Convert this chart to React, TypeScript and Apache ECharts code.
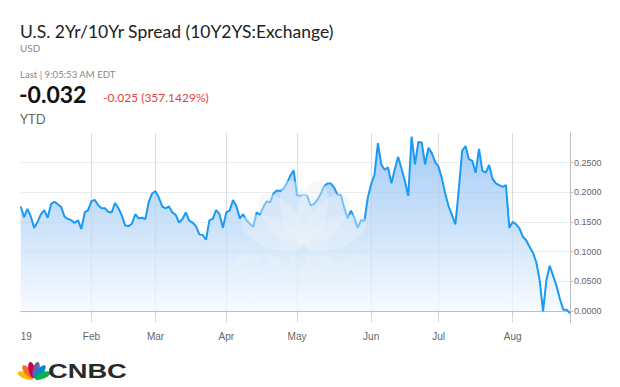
import React, { useEffect, useRef } from "react";
import * as echarts from "echarts";

// Daily closes of the 2Yr/10Yr spread, one array per month (trading days)
const jan = [0.176, 0.158, 0.172, 0.159, 0.140, 0.150, 0.163, 0.170, 0.157, 0.180, 0.184, 0.180, 0.175, 0.159, 0.155, 0.153, 0.148, 0.153, 0.138, 0.166, 0.170];
const feb = [0.185, 0.187, 0.178, 0.173, 0.173, 0.167, 0.166, 0.182, 0.173, 0.161, 0.144, 0.143, 0.147, 0.163, 0.156, 0.157, 0.155, 0.184, 0.198];
const mar = [0.202, 0.191, 0.176, 0.173, 0.176, 0.166, 0.162, 0.149, 0.155, 0.166, 0.152, 0.149, 0.143, 0.129, 0.128, 0.120, 0.153, 0.155, 0.170, 0.163, 0.140];
const apr = [0.166, 0.169, 0.187, 0.177, 0.156, 0.163, 0.153, 0.147, 0.142, 0.166, 0.162, 0.175, 0.185, 0.183, 0.198, 0.203, 0.202, 0.206, 0.215, 0.228, 0.237];
const may = [0.195, 0.194, 0.196, 0.194, 0.178, 0.180, 0.187, 0.197, 0.210, 0.215, 0.215, 0.208, 0.196, 0.196, 0.174, 0.156, 0.169, 0.157, 0.140, 0.153, 0.152, 0.191];
const jun = [0.214, 0.230, 0.283, 0.247, 0.238, 0.242, 0.215, 0.239, 0.260, 0.240, 0.219, 0.194, 0.294, 0.247, 0.285, 0.284, 0.247, 0.275, 0.266, 0.251];
const jul = [0.243, 0.223, 0.197, 0.176, 0.161, 0.146, 0.205, 0.270, 0.278, 0.256, 0.253, 0.233, 0.273, 0.236, 0.233, 0.246, 0.223, 0.215, 0.212, 0.209, 0.212, 0.140];
const aug = [0.150, 0.146, 0.139, 0.125, 0.119, 0.108, 0.098, 0.082, 0.052, -0.001, 0.052, 0.076, 0.059, 0.042, 0.020, 0.002, 0.002, -0.004];

const monthLabels = ["19", "Feb", "Mar", "Apr", "May", "Jun", "Jul", "Aug"];
const yTicks = [0, 0.05, 0.1, 0.15, 0.2, 0.25];
const holidays = ["2019-01-01", "2019-01-21", "2019-02-18", "2019-04-19", "2019-05-27", "2019-07-04"];
const startDate = "2019-01-02";
const endDate = "2019-08-26";

function tradingDays(): string[] {
  const out: string[] = [];
  const d = new Date(startDate + "T12:00:00Z");
  const end = new Date(endDate + "T12:00:00Z");
  while (d <= end) {
    const wd = d.getUTCDay();
    const s = d.toISOString().slice(0, 10);
    if (wd !== 0 && wd !== 6 && holidays.indexOf(s) < 0) out.push(s);
    d.setUTCDate(d.getUTCDate() + 1);
  }
  return out;
}

export default function App() {
  const ref = useRef<HTMLDivElement>(null);
  useEffect(() => {
    document.body.style.margin = "0";
    if (!ref.current) return;
    const chart = echarts.init(ref.current, null, { renderer: "svg" });
    const values = [...jan, ...feb, ...mar, ...apr, ...may, ...jun, ...jul, ...aug];
    const dates = tradingDays();
    const monthStart: Record<number, string> = {};
    let prevMonth = "";
    let m = 0;
    dates.forEach((ds, i) => {
      const mm = ds.slice(5, 7);
      if (mm !== prevMonth) {
        monthStart[i] = monthLabels[m++];
        prevMonth = mm;
      }
    });
    const isStart = (i: number) => monthStart[i] !== undefined;
    const isStartNotFirst = (i: number) => i > 0 && monthStart[i] !== undefined;

    const feathers = ["#fcb711", "#f37021", "#cc004c", "#6460aa", "#0089d0", "#0db14b"];
    const angles = [68, 40, 13, -13, -40, -68];
    const peacock = (x: number, y: number, rx: number, ry: number, fills: string[], z: number) => ({
      type: "group",
      x,
      y,
      z,
      children: angles.map((a, k) => ({
        type: "ellipse",
        shape: { cx: 0, cy: -ry - 1, rx, ry },
        rotation: (a * Math.PI) / 180,
        originX: 0,
        originY: 0,
        style: { fill: fills[k] },
        z,
      })),
    });

    chart.setOption({
      animation: false,
      grid: { left: 20.7, right: 50, top: 133, bottom: 64.3 },
      xAxis: {
        type: "category",
        data: dates,
        boundaryGap: false,
        axisLine: { lineStyle: { color: "#bdbdbd", width: 1 } },
        axisTick: { show: true, interval: (i: number) => isStartNotFirst(i), length: 5, lineStyle: { color: "#cfcfcf" } },
        axisLabel: {
          interval: (i: number) => isStart(i),
          formatter: (_v: string, i: number) => monthStart[i] || "",
          color: "#666",
          fontSize: 10,
          fontFamily: "Liberation Sans",
          margin: 9,
          alignMinLabel: "left",
        },
        splitLine: { show: true, interval: (i: number) => isStartNotFirst(i), lineStyle: { color: "#dcdcdc", width: 1 } },
      },
      yAxis: {
        type: "value",
        position: "right",
        min: -0.02,
        max: 0.3,
        axisLine: { show: true, lineStyle: { color: "#bdbdbd" } },
        axisTick: { show: true, length: 3, customValues: yTicks, lineStyle: { color: "#bdbdbd" } },
        axisLabel: {
          customValues: yTicks,
          formatter: (v: number) => v.toFixed(4),
          color: "#666",
          fontSize: 9,
          fontFamily: "Liberation Sans",
          margin: 4,
        },
        splitLine: { show: true, lineStyle: { color: "#ececec" } },
      },
      series: [
        {
          type: "line",
          data: values,
          symbol: "none",
          lineStyle: { color: "#1a9af5", width: 2 },
          itemStyle: { color: "#1a9af5" },
          areaStyle: {
            color: new echarts.graphic.LinearGradient(0, 0, 0, 1, [
              { offset: 0, color: "#7fb6f3" },
              { offset: 0.5, color: "#b6d6f8" },
              { offset: 1, color: "#f5faff" },
            ]),
          },
          z: 2,
        },
      ],
      graphic: [
        { type: "text", x: 20, y: 31, z: 10, style: { text: "U.S. 2Yr/10Yr Spread (10Y2YS:Exchange)", fontSize: 17.5, fontFamily: "Lato", fill: "#222", verticalAlign: "middle" } },
        { type: "text", x: 20, y: 48, z: 10, style: { text: "USD", fontSize: 10, fontFamily: "Lato", fill: "#8a8a8a", verticalAlign: "middle" } },
        { type: "text", x: 20, y: 74, z: 10, style: { text: "Last | 9:05:53 AM EDT", fontSize: 9.6, fontFamily: "Lato", fill: "#8a8a8a", verticalAlign: "middle" } },
        { type: "text", x: 19, y: 94, z: 10, style: { text: "-0.032", fontSize: 23, fontWeight: 700, fontFamily: "Lato", fill: "#111", verticalAlign: "middle" } },
        { type: "text", x: 103, y: 97.5, z: 10, style: { text: "-0.025 (357.1429%)", fontSize: 12, fontFamily: "Lato", fill: "#e8403a", verticalAlign: "middle" } },
        { type: "text", x: 20, y: 119, z: 10, style: { text: "YTD", fontSize: 13, fontFamily: "Lato", fill: "#666", verticalAlign: "middle" } },
        // faint watermark
        peacock(304, 246, 15, 33, feathers.map(() => "rgba(236,242,248,0.45)"), 5),
        { type: "text", x: 230, y: 270, z: 5, scaleX: 1.2, style: { text: "CNBC", fontSize: 38, fontWeight: 900, fontFamily: "DejaVu Sans", fill: "rgba(236,242,248,0.45)", verticalAlign: "middle" } },
        // bottom logo
        peacock(34, 379, 3.3, 8.2, feathers, 10),
        { type: "text", x: 48, y: 370.5, z: 10, scaleX: 1.3, style: { text: "CNBC", fontSize: 21, fontWeight: 900, fontFamily: "Liberation Sans", fill: "#2a2a2a", verticalAlign: "middle" } },
      ],
    });
    return () => chart.dispose();
  }, []);
  return <div ref={ref} style={{ width: 620, height: 387 }} />;
}
